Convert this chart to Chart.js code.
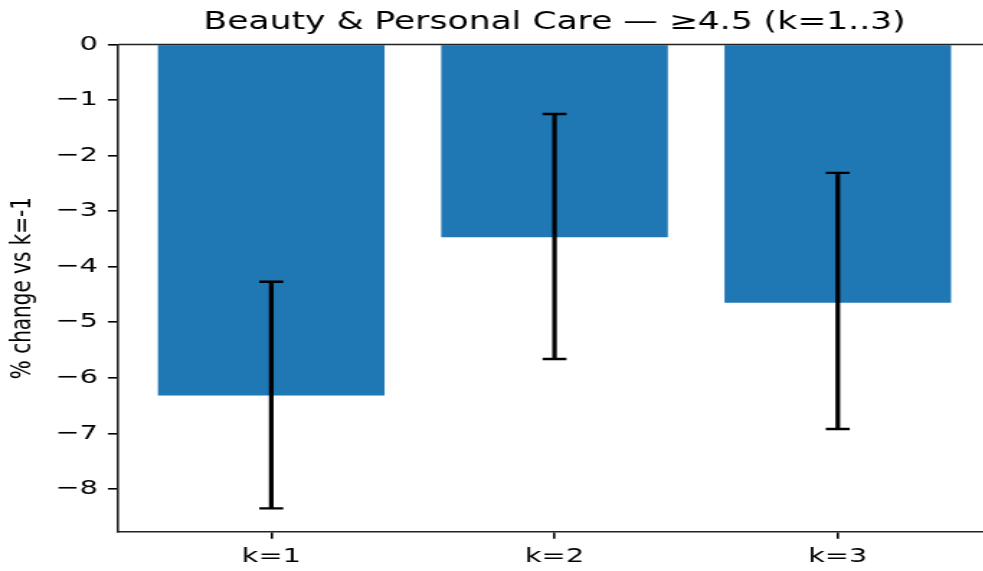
<!DOCTYPE html>
<html>
<head>
<meta charset="utf-8">
<script src="https://cdn.jsdelivr.net/npm/chart.js@4/dist/chart.umd.min.js"></script>
<style>
  html, body { margin: 0; padding: 0; background: #fff; overflow: hidden; width: 983px; height: 571px; }
  #wrap { position: absolute; left: 0; top: 0; width: 700px; height: 571px; transform: scaleX(1.44); transform-origin: 0 0; }
</style>
</head>
<body>
<div id="wrap"><canvas id="c"></canvas></div>
<script>
// ---- data ----
const title = 'Beauty & Personal Care — ≥4.5 (k=1..3)';
const yLabel = '% change vs k=-1';
const categories = ['k=1', 'k=2', 'k=3'];
const values = [-6.32, -3.47, -4.65];
const errLow = [-8.35, -5.66, -6.92];
const errHigh = [-4.27, -1.25, -2.31];
const yTicks = [0, -1, -2, -3, -4, -5, -6, -7, -8];

const FONT = 'DejaVu Sans';

const errorBars = {
  id: 'errorBars',
  afterDatasetsDraw(chart) {
    const ctx = chart.ctx, xs = chart.scales.x, ys = chart.scales.y;
    ctx.save();
    ctx.strokeStyle = '#000';
    categories.forEach((c, i) => {
      const x = xs.getPixelForValue(i);
      const y1 = ys.getPixelForValue(errLow[i]);
      const y2 = ys.getPixelForValue(errHigh[i]);
      ctx.lineWidth = 3.2;
      ctx.beginPath(); ctx.moveTo(x, y1); ctx.lineTo(x, y2); ctx.stroke();
      ctx.lineWidth = 2.4;
      ctx.beginPath();
      ctx.moveTo(x - 8.3, y1); ctx.lineTo(x + 8.3, y1);
      ctx.moveTo(x - 8.3, y2); ctx.lineTo(x + 8.3, y2);
      ctx.stroke();
    });
    ctx.restore();
  }
};

const topSpine = {
  id: 'topSpine',
  afterDraw(chart) {
    const a = chart.chartArea, ctx = chart.ctx;
    ctx.save();
    ctx.strokeStyle = '#222';
    ctx.lineWidth = 1.6;
    ctx.beginPath();
    ctx.moveTo(a.left, a.top); ctx.lineTo(chart.width, a.top);
    ctx.stroke();
    ctx.restore();
  }
};

new Chart(document.getElementById('c'), {
  type: 'bar',
  data: {
    datasets: [{
      data: values.map((v, i) => ({ x: i, y: v })),
      backgroundColor: '#1f77b4',
      borderWidth: 0,
      barPercentage: 0.8,
      categoryPercentage: 1.0
    }]
  },
  options: {
    responsive: true,
    maintainAspectRatio: false,
    animation: false,
    layout: { padding: { left: 0, right: 12, top: 0, bottom: 0 } },
    plugins: {
      legend: { display: false },
      tooltip: { enabled: false },
      title: {
        display: true,
        text: title,
        fullSize: false,
        color: '#000',
        font: { family: FONT, size: 24, weight: 'normal' },
        padding: { top: 8.4, bottom: 7.3 }
      }
    },
    scales: {
      x: {
        type: 'linear',
        offset: false,
        min: -0.54,
        max: 2.54,
        afterBuildTicks: (s) => { s.ticks = categories.map((c, i) => ({ value: i })); },
        afterFit: (s) => { s.height = 39.3; },
        grid: { offset: false, drawOnChartArea: false, drawTicks: true, tickLength: 7, tickColor: '#000', lineWidth: 1.6 },
        border: { display: true, color: '#222', width: 1.6 },
        ticks: {
          color: '#000',
          padding: 6,
          maxRotation: 0,
          font: { family: FONT, size: 20 },
          callback: (v) => categories[v]
        }
      },
      y: {
        type: 'linear',
        min: -8.77,
        max: 0,
        afterBuildTicks: (s) => { s.ticks = yTicks.map(v => ({ value: v })); },
        afterFit: (s) => { s.width = 82.15; },
        grid: { drawOnChartArea: false, drawTicks: true, tickLength: 7.2, tickColor: '#000', lineWidth: 1.6 },
        border: { display: true, color: '#222', width: 1.6 },
        title: {
          display: true,
          text: yLabel,
          color: '#000',
          font: { family: FONT, size: 20 },
          padding: { top: 4, bottom: 0 }
        },
        ticks: {
          color: '#000',
          padding: 7,
          font: { family: FONT, size: 20 },
          callback: (v) => String(v).replace('-', '\u2212')
        }
      }
    }
  },
  plugins: [errorBars, topSpine]
});
</script>
</body>
</html>
